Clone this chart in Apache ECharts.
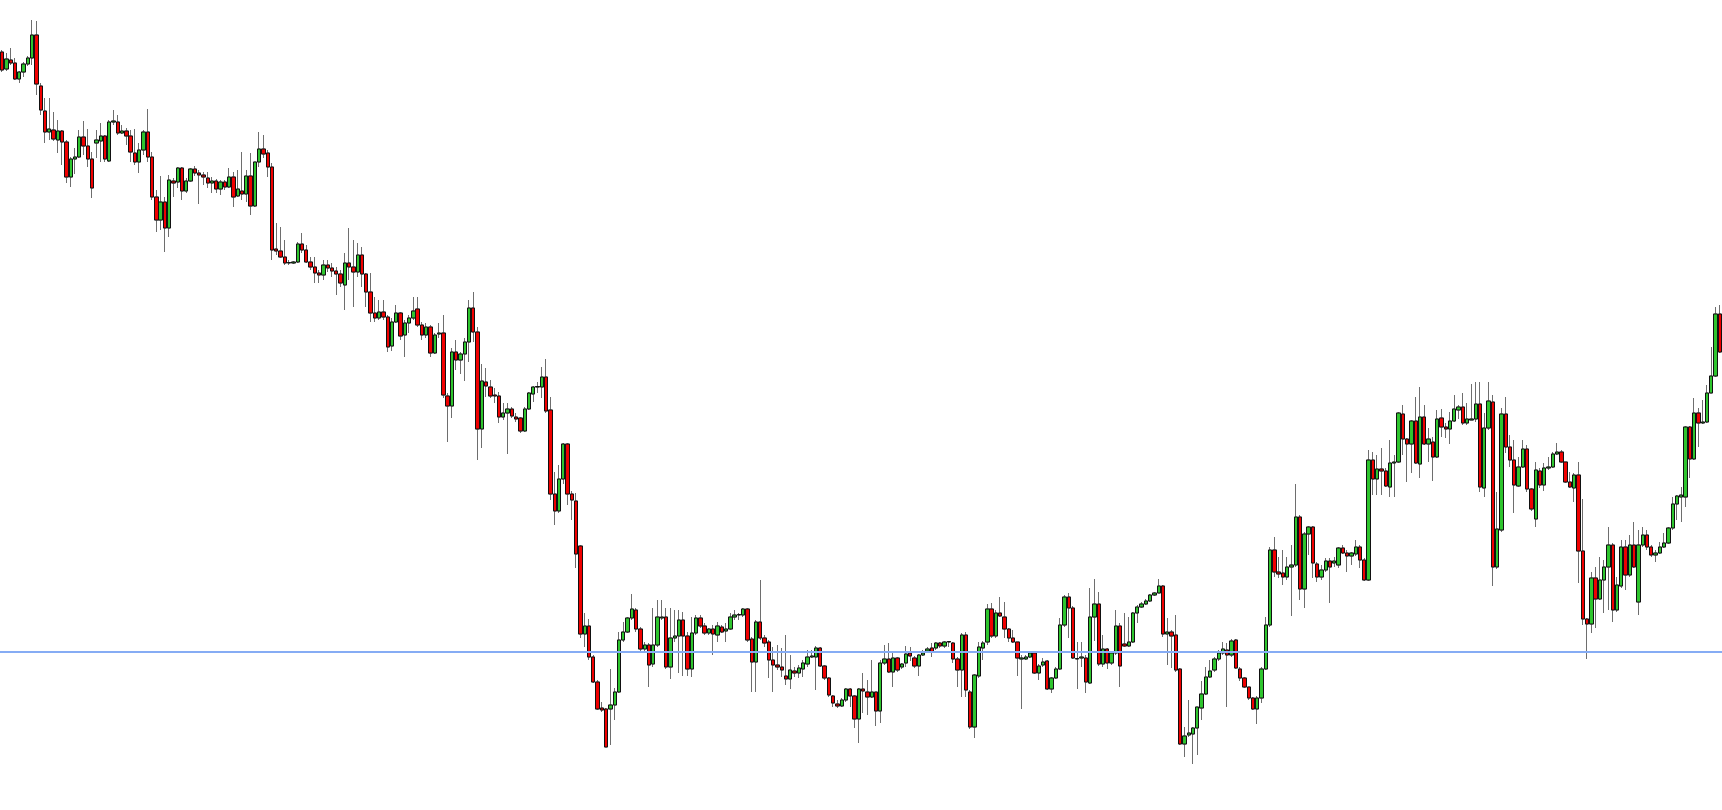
<!DOCTYPE html>
<html>
<head>
<meta charset="utf-8">
<style>
html,body{margin:0;padding:0;background:#fff;}
#chart{width:1722px;height:810px;}
</style>
<script src="https://cdn.jsdelivr.net/npm/echarts@6/dist/echarts.min.js"></script>
</head>
<body>
<div id="chart"></div>
<script>
// OHLC values (price units)
const opens = [758,741,750,747,731,738,746,752,775,724,699,678,680,670,679,668,633,651,653,673,664,651,667,669,674,649,688,688,677,679,674,657,648,660,678,653,613,590,608,582,629,628,642,619,629,
641,637,635,632,627,629,621,628,623,633,614,619,616,634,604,648,661,657,643,561,559,553,547,547,548,566,560,548,543,537,535,545,542,539,536,525,547,543,538,555,536,518,497,492,498,493,
464,488,497,475,487,492,501,485,475,483,457,476,477,414,404,458,450,456,468,502,478,381,428,423,415,414,393,397,401,393,392,379,401,416,423,423,433,400,316,299,331,366,316,309,264,176,
184,153,128,102,101,101,105,118,170,178,192,200,181,161,165,146,165,192,193,143,172,174,190,174,141,177,192,184,177,181,175,183,179,181,193,195,195,201,171,148,188,172,168,150,145,143,134,131,139,137,141,146,
153,153,162,144,132,114,106,104,110,121,114,91,121,118,113,118,99,147,151,138,152,143,147,157,152,144,155,159,162,162,167,164,168,167,151,140,175,118,83,134,162,168,201,174,197,193,181,172,168,151,151,153,157,137,
145,149,121,132,141,185,213,202,151,152,152,127,193,206,146,161,147,157,184,166,164,168,197,203,206,209,215,217,224,176,178,175,141,66,75,76,82,102,116,133,140,151,157,160,155,170,141,132,123,112,101,112,141,185,260,
238,237,233,243,245,293,221,276,283,246,233,240,249,247,245,262,257,254,256,263,250,230,350,331,341,339,323,347,348,396,371,366,389,346,393,366,368,353,392,383,381,389,400,403,387,390,391,406,322,382,408,243,280,
396,363,350,324,343,361,321,291,339,325,342,343,356,358,348,328,322,335,259,191,186,232,211,230,243,265,200,224,263,235,265,208,265,275,263,255,257,263,267,282,306,313,313,383,351,397,387,388,417,434,496];
const closes = [740,751,747,731,738,746,752,775,726,700,678,681,671,679,668,633,651,653,673,664,651,622,670,674,651,688,689,677,679,674,658,648,660,678,653,613,590,608,582,630,627,642,619,629,641,
637,635,633,627,629,621,628,623,633,613,621,616,634,604,648,661,656,643,560,559,553,547,547.5,548,566,560,548,543,537,535,545,542,539,536,527,547,543,538,555,536,518,497,492,498,493,463,
488,497,474,487,492,499,485,475,483,457,475,477,415,404,458,450,456,468,502,478,381,429,424,414,414,393,397,401,394,391,379,401,417,423,423.5,433,399,316,299,331,366,316,310,256,176,184,
153,128,101,100,63,105,118,170,178,192,201,181,161,165,145,165,193,193,143,172,174,190,174,141,177,192,184,177,181,176,184,178,181,193,195,195.5,201,170,148,188,172,167,150,145,143,140,131,140,137,142,147,153,
154,162,144,132,115,107,104,110,121,114,91,121,119,113,118,99,147,151,138,152,140,146,156,154,144,155,157,161,158,167,164,168,168.5,151,140,175,120,83,135,163,167,201,174,197,194,181,172,168,152,152,153,157,137,144,
148,121,132,141,185,213,202,152,151.5,153,128,193,206,146,161,147,157,184,144,164,168,197,203,206,209,215,217,224,176,178,174,140,66,74,77,82,103,116,133,139,151,157,161,155,169,142,132,123,112,101,112,141,185,260,238,
236,233,243,245,293,221,276,283,247,233,240,249,243,249,262,257,254,257,263,250,230,350,331,341,339,324,347,348,397,371,366,389,347,393,366,371,353,391,383,381,389,401,403,387,391,391,406,323,382,409,243,281,396,
363,350,325,343,361,321,301,340,325,342,343,356,358,348,328,323,335,259,191,186,232,211,230,243,265,200,225,263,235,265,243,265,275,263,255,257,263,267,282,306,314,315,383,351,397,387,388,417,434,496,458];
const lows = [738,739,745,730,727,733,744,745,715,695,667,670,669,657,645,627,623,636,652,655,643,612,652,648,648,648,685,675,676,665,648,645,637,655,648,610,578,580,558,573,613,622,610,617,628,
634,606,625,622,617,617,615,620,622,603,613,610,608,595,603,643,652,633,550,555,552,545,545,546,547,557,547,540,527,527,530,538,533,515,523,500,530,503,533,523,503,488,488,490,490,458,
459,487,470,453,477,490,483,470,472,453,456,472,412,368,392,440,436,429,448,468,350,362,413,412,407,387,390,356,392,388,377,378,400,408,417,412,397,310,285,297,326,305,290,242,172,163,
150,127,100,98,63,65,90,117,168,177,190,178,158,158,123,143,163,190,141,131,168,137,134,134,133,175,182,175,175,155,168,177,168,180,190,190,193,168,118,118,170,163,132,118,140,133,125,121,133,132,133,143,
152,120,143,130,113,103,102,103,108,103,82,67,97,95,112,84,87,145,137,123,138,141,143,149,142,134,154,157,153,160,162,162,163,147,123,113,113,81,72,132,150,165,172,172,193,172,168,167,134,101,150,152,136,130,
143,120,117,131,140,183,172,151,121,143,117,126,169,144,143,141,145,155,123,163,163,167,187,202,205,208,214,217,173,145,142,138,65,53,73,46,55,90,115,132,138,149,155,103,153,141,129,122,110,100,86,107,140,183,233,
232,225,230,194,243,210,202,255,232,228,230,238,207,243,242,256,238,245,254,242,229,229,315,315,315,323,313,313,347,355,328,337,346,332,365,348,329,352,373,372,366,388,391,385,385,390,388,318,313,380,224,241,278,
357,343,297,323,342,318,299,283,322,319,340,342,355,347,327,322,308,227,185,151,177,182,210,197,200,188,198,222,220,233,242,195,263,260,253,248,256,262,266,280,290,288,303,332,350,363,386,387,417,433,457];
const highs = [760,757,762,752,739,748,754,790,789,727,712,712,698,690,680,670,653,662,680,689,681,658,680,687,675,690,700,695,685,682,680,681,667,680,701,658,620,634,613,635,632,643,643,632,642,
644,640,638,638,633,631,630,630,642,638,640,658,640,657,648,678,675,660,647,587,583,570,550,549,568,577,565,553,553,540,550,550,547,543,540,557,582,570,567,563,537,537,513,510,510,495,
492,505,498,490,495,513,513,488,487,485,477,487,495,417,462,470,458,472,510,518,483,446,442,430,422,418,407,407,403,397,393,403,418,424,428,443,451,413,338,345,367,367,319,317,265,197,
191,155,130,108,102,141,122,178,188,193,216,202,183,168,167,202,210,210,202,202,200,200,198,178,193,195,195,187,182,185,188,185,187,197,200,197,202,202,173,190,230,175,170,163,165,162,175,155,143,145,150,160,
160,164,163,145,133,115,110,112,122,122,115,122,137,130,150,118,150,165,167,157,153,147,164,163,154,156,160,163,167,168,168,169,169,168,153,177,178,120,136,168,169,206,207,200,213,208,182,180,168,155,155,158,158,146,
152,150,133,143,192,215,217,204,168,168,155,222,231,218,175,162,158,200,187,197,193,198,205,208,211,216,218,231,225,192,180,195,142,83,110,83,103,129,143,150,153,160,168,167,171,171,143,133,123,113,114,143,193,263,273,
253,260,253,265,326,295,278,284,284,248,245,252,252,253,263,265,260,258,270,265,252,360,358,355,362,342,370,355,398,405,372,390,413,423,405,382,373,400,401,387,398,415,405,417,407,426,428,428,397,428,415,318,402,
413,375,370,353,370,365,322,348,342,347,353,358,367,360,348,338,337,348,311,192,238,243,253,250,283,267,233,270,270,275,288,280,283,280,265,260,268,277,283,313,315,323,384,384,412,402,410,425,463,503,505];

const categories = opens.map((_, i) => String(i + 1));
const levelLine = 158.3; // horizontal reference level

const upColor = '#2ec52e';
const downColor = '#f00000';

const chart = echarts.init(document.getElementById('chart'), null, {renderer: 'canvas'});
chart.setOption({
  animation: false,
  backgroundColor: '#ffffff',
  grid: {left: -1.4, width: 1724, top: 0, bottom: 0},
  xAxis: {type: 'category', data: categories, boundaryGap: true, show: false},
  yAxis: {type: 'value', min: 0, max: 810, show: false, splitLine: {show: false}},
  series: [{
    // wicks (grey)
    type: 'candlestick',
    data: opens.map((o, i) => [o, closes[i], lows[i], highs[i]]),
    barWidth: 3.8,
    itemStyle: {color: upColor, color0: downColor, borderColor: '#6e6e6e', borderColor0: '#6e6e6e', borderWidth: 1},
    markLine: {
      silent: true,
      symbol: ['none', 'none'],
      label: {show: false},
      lineStyle: {color: '#86acf4', width: 2, type: 'solid'},
      data: [{yAxis: levelLine}]
    }
  }, {
    // bodies with dark outline
    type: 'candlestick',
    data: opens.map((o, i) => [o, closes[i], Math.min(o, closes[i]), Math.max(o, closes[i])]),
    barWidth: 3.8,
    itemStyle: {color: upColor, color0: downColor, borderColor: '#111111', borderColor0: '#111111', borderWidth: 1}
  }]
});
</script>
</body>
</html>
